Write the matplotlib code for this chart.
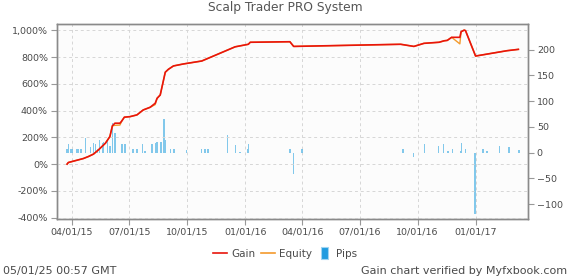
import matplotlib
matplotlib.use("Agg")
import matplotlib.pyplot as plt
import matplotlib.dates as mdates
from matplotlib.lines import Line2D
from matplotlib.patches import Patch, Rectangle
from matplotlib.legend_handler import HandlerPatch
from matplotlib.ticker import FuncFormatter
import pandas as pd

# ── data ────────────────────────────────────────────────────────────────────
gain_dates = [
    "2015-03-24", "2015-03-26", "2015-04-07", "2015-04-19", "2015-04-27",
    "2015-05-05", "2015-05-13", "2015-05-24", "2015-05-31", "2015-06-04",
    "2015-06-08", "2015-06-16", "2015-06-19", "2015-06-23", "2015-07-02",
    "2015-07-13", "2015-07-23", "2015-08-03", "2015-08-11", "2015-08-14",
    "2015-08-19", "2015-08-27", "2015-09-01", "2015-09-09", "2015-09-25",
    "2015-10-24", "2015-12-16", "2016-01-06", "2016-01-09", "2016-03-12",
    "2016-03-18", "2016-09-04", "2016-09-25", "2016-10-11", "2016-11-04",
    "2016-11-12", "2016-11-17", "2016-11-24", "2016-12-07", "2016-12-09",
    "2016-12-14", "2016-12-16", "2017-01-01", "2017-02-20", "2017-03-10",
]
gain = [
    0, 12, 27, 42, 57,
    75, 107, 157, 206, 286,
    306, 306, 323, 351, 355,
    368, 405, 425, 455, 492,
    517, 687, 709, 734, 749,
    771, 877, 896, 911, 915,
    880, 896, 880, 903, 911,
    922, 925, 948, 948, 990,
    1002, 998, 808, 848, 858,
]
equity = [
    0, 12, 27, 42, 57,
    75, 107, 157, 206, 286,
    290, 292, 323, 351, 355,
    368, 405, 425, 445, 492,
    517, 687, 709, 734, 749,
    771, 877, 896, 911, 915,
    880, 896, 880, 903, 911,
    922, 925, 948, 899, 990,
    1002, 998, 808, 848, 858,
]

pip_dates = [
    "2015-03-24", "2015-03-26", "2015-03-29", "2015-04-01", "2015-04-09",
    "2015-04-11", "2015-04-14", "2015-04-16", "2015-04-22", "2015-04-30",
    "2015-05-05", "2015-05-08", "2015-05-11", "2015-05-15", "2015-05-19",
    "2015-05-21", "2015-05-27", "2015-05-31", "2015-06-04", "2015-06-08",
    "2015-06-19", "2015-06-24", "2015-07-07", "2015-07-13", "2015-07-22",
    "2015-07-26", "2015-08-06", "2015-08-11", "2015-08-14", "2015-08-20",
    "2015-08-25", "2015-08-27", "2015-09-04", "2015-09-10", "2015-09-30",
    "2015-10-24", "2015-10-29", "2015-11-03", "2015-12-04", "2015-12-17",
    "2015-12-24", "2016-01-05", "2016-01-06", "2016-03-12", "2016-03-18",
    "2016-03-31", "2016-09-08", "2016-09-24", "2016-10-12", "2016-11-03",
    "2016-11-11", "2016-11-18", "2016-11-25", "2016-12-08", "2016-12-10",
    "2016-12-16", "2016-12-31", "2017-01-13", "2017-01-19", "2017-02-08",
    "2017-02-23", "2017-03-11",
]
pips = [
    8, 16, 8, 8, 8,
    8, 8, 8, 28, 10,
    18, 16, 8, 25, 18,
    21, 25, 12, 57, 38,
    16, 16, 8, 8, 16,
    3, 16, 18, 21, 21,
    65, 25, 8, 8, 6,
    8, 8, 7, 35, 15,
    2, 7, 16, 7, -41,
    8, 8, -8, 16, 12,
    16, 4, 8, 3, 18,
    8, -119, 8, 3, 12,
    10, 5,
]

left_ticks = [-400, -200, 0, 200, 400, 600, 800, 1000]
right_ticks = [-100, -50, 0, 50, 100, 150, 200]

GAIN_COLOR = "#e8150c"
EQUITY_COLOR = "#f39a2c"
PIPS_COLOR = "#4fb2e4"
TEXT_COLOR = "#4a4a4a"
FRAME_COLOR = "#8a8a8a"

plt.rcParams["font.family"] = ["DejaVu Sans"]

gd = pd.to_datetime(gain_dates)
pd_dates = pd.to_datetime(pip_dates)

fig = plt.figure(figsize=(5.7, 2.8), dpi=100)
ax_p = fig.add_axes([0.1, 0.218, 0.826, 0.696])
ax_g = ax_p.twinx()

# pips (right axis) underneath
ax_p.set_facecolor("#fcfcfc")
ax_p.bar(pd_dates, pips, width=2.2, color=PIPS_COLOR, alpha=0.7, linewidth=0)
ax_p.set_ylim(-129, 250)
ax_p.yaxis.tick_right()
ax_p.set_yticks(right_ticks)

# gain / equity (left axis) on top
ax_g.plot(gd, equity, color=EQUITY_COLOR, lw=1.0)
ax_g.plot(gd, gain, color=GAIN_COLOR, lw=1.2)
ax_g.set_ylim(-410, 1047)
ax_g.yaxis.tick_left()
ax_g.set_yticks(left_ticks)
ax_g.yaxis.set_major_formatter(FuncFormatter(lambda v, _: f"{int(v):,}%"))

ax_p.set_xlim(pd.Timestamp("2015-03-08"), pd.Timestamp("2017-03-25"))
ax_p.xaxis.set_major_locator(mdates.MonthLocator(bymonth=[1, 4, 7, 10]))
ax_p.xaxis.set_major_formatter(mdates.DateFormatter("%m/%d/%y"))

# grid: vertical from dates, horizontal from the left (gain) ticks
ax_p.grid(axis="x", color="#d6d6d6", linestyle=(0, (3, 3)), linewidth=0.7)
ax_g.grid(axis="y", color="#d6d6d6", linestyle=(0, (3, 3)), linewidth=0.7)
ax_p.set_axisbelow(True)
ax_g.set_axisbelow(True)

for a in (ax_p, ax_g):
    for s in a.spines.values():
        s.set_color(FRAME_COLOR)
        s.set_linewidth(1.0)
    a.tick_params(labelcolor=TEXT_COLOR, labelsize=6.8, length=4, width=0.8,
                  color="#999999", pad=2.5)

fig.text(0.5, 0.972, "Scalp Trader PRO System", ha="center", va="center",
         fontsize=8.8, color="#555555")


def narrow_box(legend, orig_handle, xdescent, ydescent, width, height, fontsize):
    w = 5.0
    return Rectangle((width / 2 - w / 2 - xdescent, -ydescent - 1.5), w, height + 3)


handles = [
    Line2D([], [], color=GAIN_COLOR, lw=1.2),
    Line2D([], [], color=EQUITY_COLOR, lw=1.2),
    Patch(facecolor="#1f9be0", edgecolor="#9fd4f2", linewidth=0.8),
]
fig.legend(handles, ["Gain", "Equity", "Pips"], loc="center",
           bbox_to_anchor=(0.5, 0.094), ncol=3, frameon=False, fontsize=7.5,
           handlelength=1.4, handleheight=0.9, handletextpad=0.4,
           columnspacing=0.5, labelcolor=TEXT_COLOR,
           handler_map={Patch: HandlerPatch(patch_func=narrow_box)})

fig.text(0.006, 0.032, "05/01/25 00:57 GMT", ha="left", va="center",
         fontsize=8, color=TEXT_COLOR)
fig.text(0.995, 0.032, "Gain chart verified by Myfxbook.com", ha="right",
         va="center", fontsize=8, color=TEXT_COLOR)

fig.savefig("out.png", dpi=100)
